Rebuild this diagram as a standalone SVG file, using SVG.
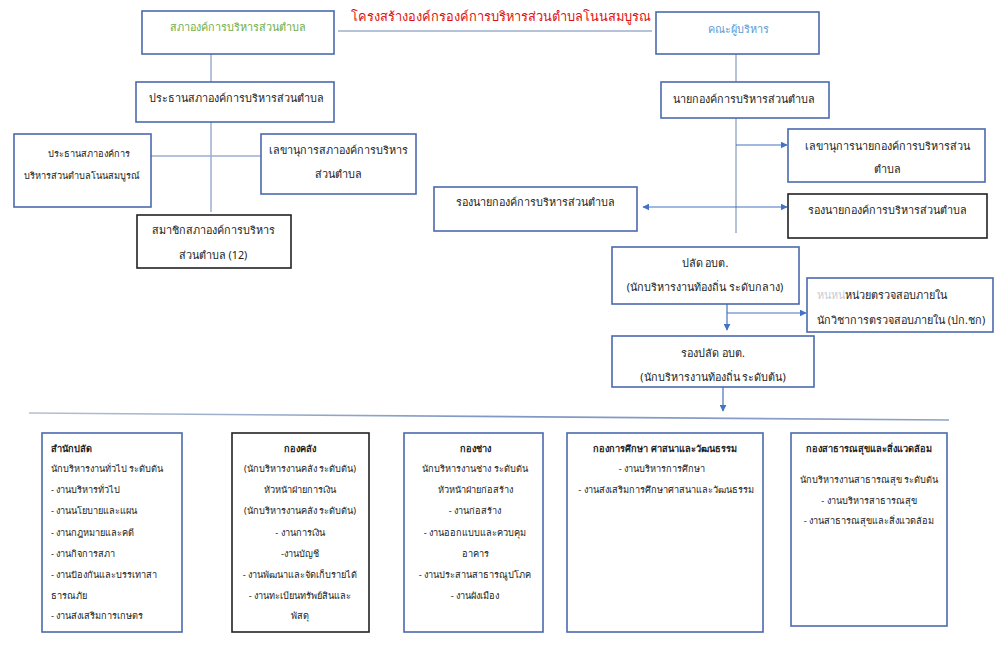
<svg xmlns="http://www.w3.org/2000/svg" width="1000" height="666" viewBox="0 0 1000 666">
<defs>
<marker id="ah" viewBox="0 0 10 10" refX="9" refY="5" markerWidth="7" markerHeight="7" orient="auto-start-reverse" markerUnits="userSpaceOnUse"><path d="M0,0 L10,5 L0,10 z" fill="#4472C4"/></marker>
<linearGradient id="sep" x1="0" y1="0" x2="1" y2="0"><stop offset="0" stop-color="#B4BFD0"/><stop offset="0.5" stop-color="#7F98C4"/><stop offset="1" stop-color="#8EA2C6"/></linearGradient>
</defs>
<style>
text{font-family:"Noto Sans","DejaVu Sans",sans-serif;fill:#222;}
.b{fill:#fff;stroke:#4A6AAE;stroke-width:1.6;}
.k{fill:#fff;stroke:#222;stroke-width:1.6;}
.t{font-size:10.8px;text-anchor:middle;}
.s{font-size:9.2px;}
.c{text-anchor:middle;}
.bold{font-weight:bold;}
.ln{stroke:#9DAECB;stroke-width:1.5;fill:none;}
.ar{stroke:#4472C4;stroke-width:1.2;fill:none;}
</style>
<rect width="1000" height="666" fill="#fff"/>
<text x="501" y="21" style="font-size:12.8px;fill:#E01010;text-anchor:middle">โครงสร้างองค์กรองค์การบริหารส่วนตำบลโนนสมบูรณ</text>
<g id="connectors">
<line class="ln" x1="338" y1="31" x2="652" y2="31"/>
<line class="ln" x1="211" y1="54" x2="211" y2="82"/>
<line class="ln" x1="211" y1="122" x2="211" y2="212"/>
<line class="ln" x1="151" y1="156" x2="261" y2="156"/>
<line class="ln" x1="736" y1="54" x2="736" y2="82"/>
<line class="ln" x1="736" y1="118" x2="736" y2="233"/>
<line class="ar" x1="736" y1="145" x2="787" y2="145" marker-end="url(#ah)"/>
<line class="ar" x1="643" y1="207" x2="787" y2="207" marker-start="url(#ah)" marker-end="url(#ah)"/>
<line class="ar" x1="727" y1="304" x2="727" y2="330" marker-end="url(#ah)"/>
<line class="ar" x1="727" y1="313" x2="806" y2="313" marker-end="url(#ah)"/>
<line class="ar" x1="723" y1="387" x2="723" y2="411" marker-end="url(#ah)"/>
<line x1="29" y1="413" x2="949" y2="420" stroke="url(#sep)" stroke-width="1.6"/>
</g>
<g id="n1"><rect class="b" x="142" y="11" width="192" height="43"/><text class="t" x="238" y="31" style="fill:#70AD47">สภาองค์การบริหารส่วนตำบล</text></g>
<g id="n2"><rect class="b" x="136" y="82" width="198" height="40"/><text class="t" x="236" y="102">ประธานสภาองค์การบริหารส่วนตำบล</text></g>
<g id="n3"><rect class="b" x="14" y="134" width="137" height="73"/><text class="s c" x="89" y="157">ประธานสภาองค์การ</text><text class="s c" x="82" y="179">บริหารส่วนตำบลโนนสมบูรณ์</text></g>
<g id="n4"><rect class="b" x="261" y="134" width="155" height="60"/><text class="t" x="338" y="154">เลขานุการสภาองค์การบริหาร</text><text class="t" x="338" y="178">ส่วนตำบล</text></g>
<g id="n5"><rect class="k" x="137" y="215" width="154" height="53"/><text class="t" x="213" y="234">สมาชิกสภาองค์การบริหาร</text><text class="t" x="213" y="259">ส่วนตำบล (12)</text></g>
<g id="n6"><rect class="b" x="656" y="12" width="163" height="42"/><text class="t" x="738" y="33" style="fill:#5B9BD5">คณะผู้บริหาร</text></g>
<g id="n7"><rect class="b" x="661" y="82" width="168" height="36"/><text class="t" x="744" y="103">นายกองค์การบริหารส่วนตำบล</text></g>
<g id="n8"><rect class="b" x="788" y="129" width="197" height="53"/><text class="t" x="887" y="150">เลขานุการนายกองค์การบริหารส่วน</text><text class="t" x="887" y="173">ตำบล</text></g>
<g id="n9"><rect class="b" x="434" y="187" width="203" height="44"/><text class="t" x="535" y="206">รองนายกองค์การบริหารส่วนตำบล</text></g>
<g id="n10"><rect class="k" x="788" y="194" width="199" height="44"/><text class="t" x="887" y="214">รองนายกองค์การบริหารส่วนตำบล</text></g>
<g id="n11"><rect class="b" x="612" y="247" width="187" height="57"/><text class="t" x="705" y="267">ปลัด อบต.</text><text class="t" x="705" y="291">(นักบริหารงานท้องถิ่น ระดับกลาง)</text></g>
<g id="n12"><rect class="b" x="807" y="278" width="186" height="54"/><text x="817" y="299" style="font-size:10.8px"><tspan style="fill:#C8CCD4">หนหน่</tspan>หน่วยตรวจสอบภายใน</text><text x="817" y="324" style="font-size:10.8px">นักวิชาการตรวจสอบภายใน (ปก.ชก)</text></g>
<g id="n13"><rect class="b" x="612" y="336" width="202" height="51"/><text class="t" x="713" y="357">รองปลัด อบต.</text><text class="t" x="713" y="381">(นักบริหารงานท้องถิ่น ระดับต้น)</text></g>
<g id="n14"><rect class="b" x="42" y="433" width="140" height="199"/>
<text class="s bold" x="51" y="452">สำนักปลัด</text>
<text class="s" x="51" y="472">นักบริหารงานทั่วไป ระดับต้น</text>
<text class="s" x="51" y="493">- งานบริหารทั่วไป</text>
<text class="s" x="51" y="514">- งานนโยบายและแผน</text>
<text class="s" x="51" y="536">- งานกฎหมายและคดี</text>
<text class="s" x="51" y="557">- งานกิจการสภา</text>
<text class="s" x="51" y="578">- งานป้องกันและบรรเทาสา</text>
<text class="s" x="51" y="599">ธารณภัย</text>
<text class="s" x="51" y="619">- งานส่งเสริมการเกษตร</text></g>
<g id="n15"><rect class="k" x="232" y="433" width="137" height="199"/>
<text class="s c bold" x="300" y="452">กองคลัง</text>
<text class="s c" x="300" y="472">(นักบริหารงานคลัง ระดับต้น)</text>
<text class="s c" x="300" y="493">หัวหน้าฝ่ายการเงิน</text>
<text class="s c" x="300" y="514">(นักบริหารงานคลัง ระดับต้น)</text>
<text class="s c" x="300" y="536">- งานการเงิน</text>
<text class="s c" x="300" y="557">-งานบัญชี</text>
<text class="s c" x="300" y="578">- งานพัฒนาและจัดเก็บรายได้</text>
<text class="s c" x="300" y="599">- งานทะเบียนทรัพย์สินและ</text>
<text class="s c" x="300" y="619">พัสดุ</text></g>
<g id="n16"><rect class="b" x="404" y="433" width="139" height="199"/>
<text class="s c bold" x="475" y="452">กองช่าง</text>
<text class="s c" x="475" y="472">นักบริหารงานช่าง ระดับต้น</text>
<text class="s c" x="475" y="493">หัวหน้าฝ่ายก่อสร้าง</text>
<text class="s c" x="475" y="514">- งานก่อสร้าง</text>
<text class="s c" x="475" y="536">- งานออกแบบและควบคุม</text>
<text class="s c" x="475" y="557">อาคาร</text>
<text class="s c" x="475" y="578">- งานประสานสาธารณูปโภค</text>
<text class="s c" x="475" y="599">- งานผังเมือง</text></g>
<g id="n17"><rect class="b" x="567" y="433" width="196" height="199"/>
<text class="s c bold" x="665" y="452">กองการศึกษา ศาสนาและวัฒนธรรม</text>
<text class="s c" x="662" y="472">- งานบริหารการศึกษา</text>
<text class="s c" x="666" y="493">- งานส่งเสริมการศึกษาศาสนาและวัฒนธรรม</text></g>
<g id="n18"><rect class="b" x="791" y="433" width="156" height="193"/>
<text class="s c bold" x="869" y="452">กองสาธารณสุขและสิ่งแวดล้อม</text>
<text class="s c" x="869" y="483">นักบริหารงานสาธารณสุข ระดับต้น</text>
<text class="s c" x="869" y="504">- งานบริหารสาธารณสุข</text>
<text class="s c" x="869" y="524">- งานสาธารณสุขและสิ่งแวดล้อม</text></g>
</svg>
